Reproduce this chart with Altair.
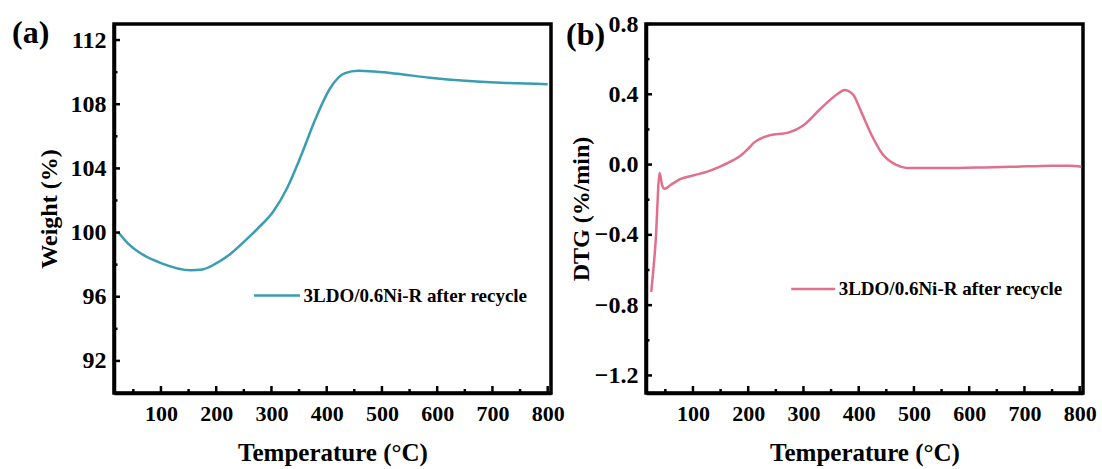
import altair as alt
import pandas as pd

# TGA weight curve (panel a)
temp_a = [22, 41, 59, 100, 154, 175, 199, 225, 251, 275, 303, 328, 354, 380,
          406, 432, 457, 490, 522, 587, 651, 716, 800]
weight = [100.05, 99.3, 98.8, 98.1, 97.65, 97.7, 98.06, 98.65, 99.45, 100.25,
          101.3, 102.75, 104.83, 107.11, 108.98, 109.92, 110.08, 110.02,
          109.92, 109.65, 109.46, 109.34, 109.25]

# DTG curve (panel b)
temp_b = [24.5, 32.4, 39.7, 44, 48.7, 60, 77.7, 100, 126, 150, 173, 186, 200,
          211, 236, 274, 299, 330, 361, 374, 389.5, 405, 424, 443, 468, 487,
          549, 612, 675, 750, 781, 803]
dtg = [-0.724, -0.44, -0.048, -0.115, -0.138, -0.115, -0.082, -0.062, -0.04,
       -0.01, 0.025, 0.05, 0.09, 0.126, 0.164, 0.183, 0.221, 0.315, 0.4,
       0.425, 0.4, 0.297, 0.164, 0.06, -0.002, -0.019, -0.02, -0.017, -0.013,
       -0.006, -0.006, -0.012]

series_name = "3LDO/0.6Ni-R after recycle"

x_major = [100, 200, 300, 400, 500, 600, 700, 800]
x_minor = [50, 150, 250, 350, 450, 550, 650, 750]
wt_major = [92, 96, 100, 104, 108, 112]
wt_minor = [94, 98, 102, 106, 110]
dtg_major = [-1.2, -0.8, -0.4, 0.0, 0.4, 0.8]
dtg_minor = [-1.0, -0.6, -0.2, 0.2, 0.6]

FONT = "Liberation Serif"
W, H = 437, 369


def panel(temps, vals, color, ydomain, ymajor, yminor, yfmt, ytitle,
          letter, letter_x, letter_y, legend_x, legend_y, sym_len):
    xs = alt.Scale(domain=[15, 806], nice=False, zero=False)
    ys = alt.Scale(domain=ydomain, nice=False, zero=False)
    x_axis = alt.Axis(values=x_major, format="d", title="Temperature (°C)",
                      labelFlush=False, labelFontSize=22, labelPadding=10,
                      titleY=67, titleBaseline="alphabetic")
    y_axis = alt.Axis(values=ymajor, format=yfmt, title=ytitle,
                      labelFontSize=24, labelPadding=8, titleFontSize=24,
                      titleX=-65, titleY=H / 2, titleBaseline="middle")

    line = alt.Chart(pd.DataFrame({"T": temps, "v": vals, "series": series_name})).mark_line(
        interpolate="monotone", strokeWidth=2.5
    ).encode(
        x=alt.X("T:Q", scale=xs, axis=x_axis),
        y=alt.Y("v:Q", scale=ys, axis=y_axis),
        color=alt.Color("series:N", scale=alt.Scale(domain=[series_name], range=[color]),
                        legend=alt.Legend(
                            orient="none", legendX=legend_x, legendY=legend_y,
                            title=None, symbolType="stroke", symbolSize=sym_len ** 2,
                            symbolStrokeWidth=2.5, labelFont=FONT, labelFontSize=19,
                            labelFontWeight="bold", labelColor="black",
                            labelOffset=2, padding=0, labelLimit=0)),
    )

    def yticks(values, length):
        return alt.Chart(pd.DataFrame({"v": values})).mark_rule(
            color="black", strokeWidth=2.5
        ).encode(y=alt.Y("v:Q", scale=ys, axis=y_axis),
                 x=alt.value(0), x2=alt.value(length))

    def xticks(values, length):
        return alt.Chart(pd.DataFrame({"T": values})).mark_rule(
            color="black", strokeWidth=2.5
        ).encode(x=alt.X("T:Q", scale=xs, axis=x_axis),
                 y=alt.value(H), y2=alt.value(H - length))

    tag = alt.Chart(pd.DataFrame({"label": [letter]})).mark_text(
        font=FONT, fontSize=32, fontWeight="bold", align="left",
        baseline="alphabetic", color="black"
    ).encode(x=alt.value(letter_x), y=alt.value(letter_y), text="label:N")

    return alt.layer(
        line, yticks(ymajor, 6), yticks(yminor, 3.5),
        xticks(x_major, 7), xticks(x_minor, 4), tag
    ).properties(width=W, height=H)


weight_panel = panel(temp_a, weight, "#3A9DB1", [90, 113], wt_major, wt_minor, "d",
                     "Weight (%)", "(a)", -102, 19, 138.5, 247, 46)
dtg_panel = panel(temp_b, dtg, "#E0708C", [-1.3, 0.8], dtg_major, dtg_minor, ".1f",
                  "DTG (%/min)", "(b)", -80, 21, 143.7, 241.5, 44)

chart = alt.hconcat(weight_panel, dtg_panel, spacing=95, bounds="flush").resolve_scale(
    x="independent", y="independent", color="independent"
).resolve_legend(color="independent").properties(
    padding={"left": 10, "top": 10, "right": 0, "bottom": 0}
).configure_view(
    stroke="black", strokeWidth=3.5
).configure_axis(
    domainColor="black", domainWidth=3.5, ticks=False, grid=False,
    labelFont=FONT, labelFontWeight="bold", labelColor="black",
    titleFont=FONT, titleFontWeight="bold", titleColor="black", titleFontSize=25
)

chart.save("out.html", embed_options={"renderer": "svg", "actions": False})
